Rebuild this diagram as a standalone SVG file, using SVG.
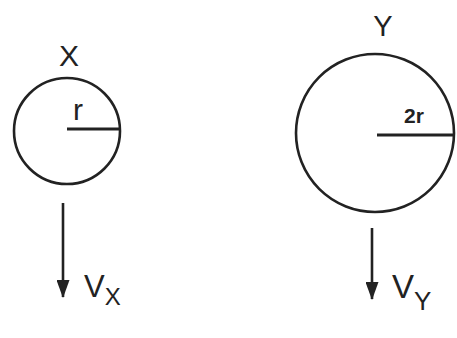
<svg xmlns="http://www.w3.org/2000/svg" width="457" height="338" viewBox="0 0 457 338">
<defs>
<style>
.c{fill:none;stroke:#222;stroke-width:2.6}
.l{stroke:#222;stroke-width:3}
.t{font-family:"Liberation Sans",Arial,sans-serif;fill:#222}
</style>
<marker id="ah" markerWidth="18" markerHeight="13" refX="17" refY="6.5" orient="auto" markerUnits="userSpaceOnUse" viewBox="0 0 18 13">
<path d="M0,0 L18,6.5 L0,13 z" fill="#222"/>
</marker>
</defs>
<rect width="457" height="338" fill="#fff"/>
<g id="nodeX">
<circle class="c" cx="67" cy="131" r="53"/>
<line class="l" x1="67" y1="129" x2="120" y2="129"/>
<text class="t" x="69" y="66" font-size="30" text-anchor="middle">X</text>
<text class="t" x="78" y="120" font-size="30" text-anchor="middle">r</text>
</g>
<g id="nodeY">
<circle class="c" cx="375" cy="133" r="79"/>
<line class="l" x1="377" y1="135" x2="454" y2="135"/>
<text class="t" x="383" y="36" font-size="29" text-anchor="middle">Y</text>
<text class="t" x="414" y="123" font-size="21" font-weight="bold" text-anchor="middle">2r</text>
</g>
<g id="connectors">
<line x1="63" y1="203" x2="63" y2="297" stroke="#222" stroke-width="2.6" marker-end="url(#ah)"/>
<line x1="372" y1="228" x2="372" y2="299" stroke="#222" stroke-width="2.6" marker-end="url(#ah)"/>
</g>
<g id="labelVX">
<text class="t" x="84" y="297" font-size="31">V<tspan font-size="24" dy="8">X</tspan></text>
</g>
<g id="labelVY">
<text class="t" x="392" y="298" font-size="33">V<tspan font-size="26" dy="12">Y</tspan></text>
</g>
</svg>
